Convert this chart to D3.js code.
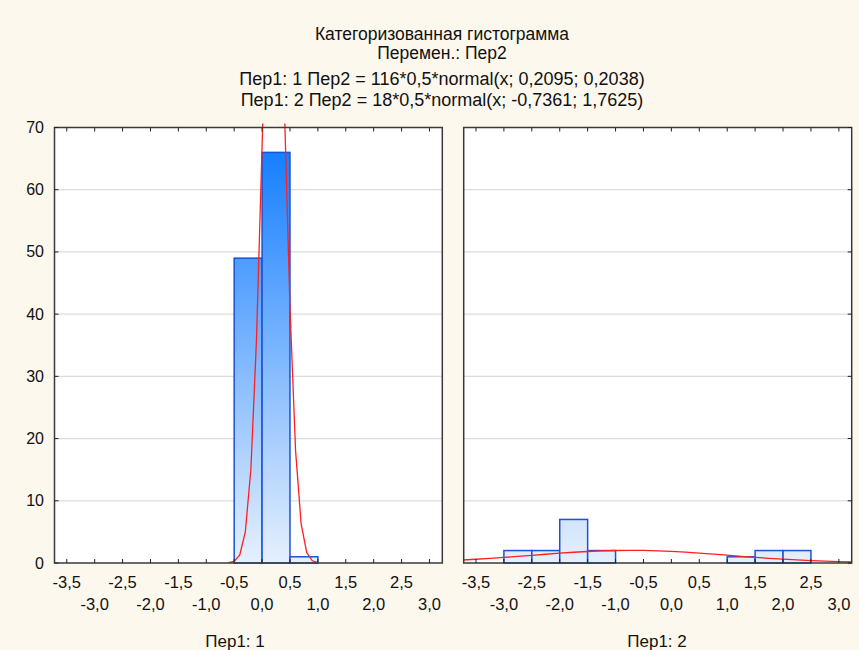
<!DOCTYPE html>
<html>
<head>
<meta charset="utf-8">
<script src="https://cdn.jsdelivr.net/npm/d3@7"></script>
<style>
  html, body { margin: 0; padding: 0; background: #fdf8ee; }
  svg { display: block; font-family: "Liberation Sans", Arial, sans-serif; }
  text { fill: #111; }
</style>
</head>
<body>
<svg id="chart"></svg>
<script>
const WIDTH = 859;
const HEIGHT = 650;

const titleLines = [
  'Категоризованная гистограмма',
  'Перемен.: Пер2',
  'Пер1: 1 Пер2 = 116*0,5*normal(x; 0,2095; 0,2038)',
  'Пер1: 2 Пер2 = 18*0,5*normal(x; -0,7361; 1,7625)'
];

const panelLabels = ['Пер1: 1', 'Пер1: 2'];
const binWidth = 0.5;

// panel 1 histogram
const binStart1 = [-0.5, 0.0, 0.5];
const counts1 = [49, 66, 1];
// panel 2 histogram
const binStart2 = [-3.0, -2.5, -2.0, -1.5, 1.0, 1.5, 2.0];
const counts2 = [2, 2, 7, 2, 1, 2, 2];

// fitted curves
const curveX1 = [-0.6, -0.5, -0.4, -0.3, -0.2, -0.1, 0.0, 0.1, 0.2, 0.3, 0.4, 0.5, 0.6, 0.7, 0.8, 0.9, 1.0];
const curveY1 = [0.04, 0.27, 1.3, 5.0, 15.1, 35.9, 66.9, 98.3, 113.4, 102.8, 73.3, 41.1, 18.1, 6.3, 1.7, 0.36, 0.06];
const curveX2 = [-3.75, -3.5, -3.25, -3.0, -2.75, -2.5, -2.25, -2.0, -1.75, -1.5, -1.25, -1.0, -0.75, -0.5, -0.25,
  0.0, 0.25, 0.5, 0.75, 1.0, 1.25, 1.5, 1.75, 2.0, 2.25, 2.5, 2.75, 3.0, 3.25];
const curveY2 = [0.47, 0.6, 0.74, 0.89, 1.06, 1.23, 1.41, 1.58, 1.73, 1.85, 1.95, 2.01, 2.04, 2.02, 1.96,
  1.87, 1.74, 1.59, 1.43, 1.25, 1.08, 0.91, 0.75, 0.61, 0.49, 0.38, 0.29, 0.22, 0.16];

const xTicks = [-3.5, -3.0, -2.5, -2.0, -1.5, -1.0, -0.5, 0.0, 0.5, 1.0, 1.5, 2.0, 2.5, 3.0];
const yTicks = [0, 10, 20, 30, 40, 50, 60, 70];

const PLOT_TOP = 127.5;
const PLOT_BOTTOM = 563;
const panels = [
  {left: 54.5, right: 442.3, starts: binStart1, counts: counts1, cx: curveX1, cy: curveY1,
   label: panelLabels[0], labelX: 235, side: 'left'},
  {left: 463.7, right: 851.7, starts: binStart2, counts: counts2, cx: curveX2, cy: curveY2,
   label: panelLabels[1], labelX: 657, side: 'right'}
];

const fmt = (v) => d3.format('.1f')(v).replace('.', ',').replace('\u2212', '-');

const svg = d3.select('#chart')
  .attr('width', WIDTH)
  .attr('height', HEIGHT);

const defs = svg.append('defs');
const grad = defs.append('linearGradient')
  .attr('id', 'barGrad')
  .attr('gradientUnits', 'userSpaceOnUse')
  .attr('x1', 0).attr('x2', 0)
  .attr('y1', PLOT_BOTTOM).attr('y2', PLOT_TOP);
grad.append('stop').attr('offset', 0).attr('stop-color', '#e6f0fd');
grad.append('stop').attr('offset', 1).attr('stop-color', '#0a78ff');

// titles
const titleY = [40, 59, 85, 106];
const titleSize = [17.5, 17.5, 18, 18];
titleLines.forEach((t, i) => {
  svg.append('text')
    .attr('x', 442)
    .attr('y', titleY[i])
    .attr('text-anchor', 'middle')
    .style('font-size', titleSize[i] + 'px')
    .text(t);
});

const y = d3.scaleLinear()
  .domain([0, 70])
  .range([PLOT_BOTTOM, PLOT_TOP]);

panels.forEach((p, pi) => {
  const x = d3.scaleLinear()
    .domain([-3.72, 3.23])
    .range([p.left, p.right]);

  const g = svg.append('g');

  g.append('rect')
    .attr('x', p.left)
    .attr('y', PLOT_TOP)
    .attr('width', p.right - p.left)
    .attr('height', PLOT_BOTTOM - PLOT_TOP)
    .style('fill', '#fff');

  // grid
  g.selectAll('.grid')
    .data(yTicks.slice(1, -1))
    .enter()
    .append('line')
    .attr('x1', p.left).attr('x2', p.right)
    .attr('y1', (d) => y(d)).attr('y2', (d) => y(d))
    .style('stroke', '#dcdcdc')
    .style('stroke-width', 1.2);

  // bars
  g.selectAll('.bar')
    .data(p.starts.map((s, i) => ({s, c: p.counts[i]})))
    .enter()
    .append('rect')
    .attr('x', (d) => x(d.s))
    .attr('y', (d) => y(d.c))
    .attr('width', (d) => x(d.s + binWidth) - x(d.s))
    .attr('height', (d) => y(0) - y(d.c))
    .style('fill', 'url(#barGrad)')
    .style('stroke', '#1c52d6')
    .style('stroke-width', 1.5);

  // fitted curve
  const clipId = 'clip' + pi;
  defs.append('clipPath').attr('id', clipId)
    .append('rect')
    .attr('x', p.left).attr('y', PLOT_TOP - 4)
    .attr('width', p.right - p.left).attr('height', PLOT_BOTTOM - PLOT_TOP + 4);

  const line = d3.line()
    .x((d) => x(d[0]))
    .y((d) => y(d[1]));

  g.append('path')
    .datum(p.cx.map((v, i) => [v, p.cy[i]]))
    .attr('clip-path', `url(#${clipId})`)
    .attr('d', line)
    .style('fill', 'none')
    .style('stroke', '#ff1f1f')
    .style('stroke-width', 1.3);

  // frame
  g.append('rect')
    .attr('x', p.left)
    .attr('y', PLOT_TOP)
    .attr('width', p.right - p.left)
    .attr('height', PLOT_BOTTOM - PLOT_TOP)
    .style('fill', 'none')
    .style('stroke', '#3a3a3a')
    .style('stroke-width', 1.5);

  // x ticks (inside, top and bottom)
  g.selectAll('.xtb')
    .data(xTicks)
    .enter()
    .append('line')
    .attr('x1', (d) => x(d)).attr('x2', (d) => x(d))
    .attr('y1', PLOT_BOTTOM).attr('y2', PLOT_BOTTOM - 4)
    .style('stroke', '#222');
  g.selectAll('.xtt')
    .data(xTicks)
    .enter()
    .append('line')
    .attr('x1', (d) => x(d)).attr('x2', (d) => x(d))
    .attr('y1', PLOT_TOP).attr('y2', PLOT_TOP + 4)
    .style('stroke', '#222');

  // y ticks
  const yEdge = p.side === 'left' ? p.left : p.right;
  const yDir = p.side === 'left' ? 4 : -4;
  g.selectAll('.yt')
    .data(yTicks)
    .enter()
    .append('line')
    .attr('x1', yEdge).attr('x2', yEdge + yDir)
    .attr('y1', (d) => y(d)).attr('y2', (d) => y(d))
    .style('stroke', '#222');

  // x labels on two rows
  g.selectAll('.xl')
    .data(xTicks)
    .enter()
    .append('text')
    .attr('x', (d) => x(d))
    .attr('y', (d, i) => i % 2 === 0 ? 588 : 610)
    .attr('text-anchor', 'middle')
    .style('font-size', '16.5px')
    .text((d) => fmt(d));

  g.append('text')
    .attr('x', p.labelX)
    .attr('y', 647)
    .attr('text-anchor', 'middle')
    .style('font-size', '17px')
    .text(p.label);

  if (p.side === 'left') {
    g.selectAll('.yl')
      .data(yTicks)
      .enter()
      .append('text')
      .attr('x', 44)
      .attr('y', (d) => y(d) + 5.5)
      .attr('text-anchor', 'end')
      .style('font-size', '16px')
      .text((d) => d);
  }
});
</script>
</body>
</html>
